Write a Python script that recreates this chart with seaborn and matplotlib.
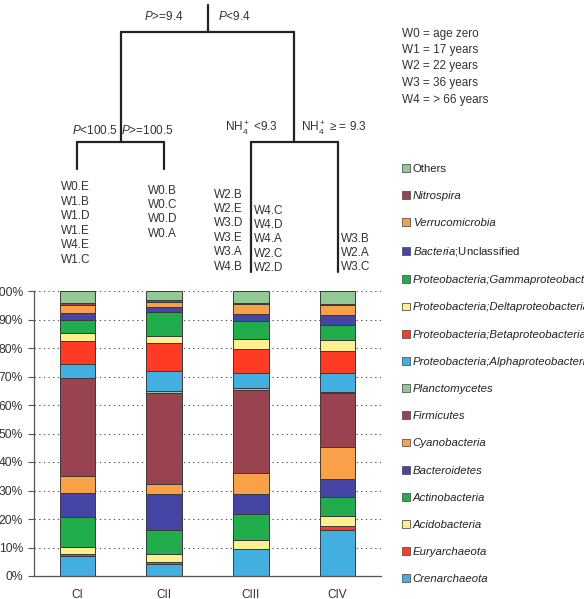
import numpy as np
import pandas as pd
import matplotlib
matplotlib.use("Agg")
import matplotlib.pyplot as plt
from matplotlib.patches import Patch
import seaborn as sns

# data (percent, listed top of bar -> bottom of bar)
clusters = ["CI", "CII", "CIII", "CIV"]
taxa = ["Others", "Nitrospira", "Verrucomicrobia", "Bacteria;Unclassified",
        "Proteobacteria;Gammaproteobacteria", "Proteobacteria;Deltaproteobacteria",
        "Proteobacteria;Betaproteobacteria", "Proteobacteria;Alphaproteobacteria",
        "Planctomycetes", "Firmicutes", "Cyanobacteria", "Bacteroidetes",
        "Actinobacteria", "Acidobacteria", "Euryarchaeota", "Crenarchaeota"]
ci = [4.3, 0.5, 2.9, 2.3, 4.7, 2.7, 8.2, 4.8, 0.3, 34.3, 6.0, 8.3, 10.6, 2.5, 0.6, 7.0]
cii = [3.0, 0.8, 1.7, 1.8, 8.4, 2.4, 9.9, 7.1, 0.8, 31.8, 3.7, 12.4, 8.4, 2.8, 0.9, 4.1]
ciii = [4.2, 0.5, 3.2, 2.7, 6.4, 3.2, 8.7, 5.2, 0.6, 29.2, 7.2, 7.3, 8.8, 3.2, 0.3, 9.3]
civ = [4.7, 0.3, 3.5, 3.3, 5.4, 3.9, 7.8, 6.5, 0.3, 19.2, 11.0, 6.5, 6.4, 3.5, 1.4, 16.3]
legend_labels = ["Others", "Nitrospira", "Verrucomicrobia", "$\\it{Bacteria}$;Unclassified",
                 "Proteobacteria;Gammaproteobacteria", "Proteobacteria;Deltaproteobacteria",
                 "Proteobacteria;Betaproteobacteria", "Proteobacteria;Alphaproteobacteria",
                 "Planctomycetes", "Firmicutes", "Cyanobacteria", "Bacteroidetes",
                 "Actinobacteria", "Acidobacteria", "Euryarchaeota", "Crenarchaeota"]
base_colors = ["#93c994", "#98434f", "#f9a148", "#4545a5",
               "#21ad4b", "#fdf08f", "#ff3b26", "#43aee0"]
colors = base_colors * 2

# tree
leaf_groups = [["W0.E", "W1.B", "W1.D", "W1.E", "W4.E", "W1.C"],
               ["W0.B", "W0.C", "W0.D", "W0.A"],
               ["W2.B", "W2.E", "W3.D", "W3.E", "W3.A", "W4.B"],
               ["W4.C", "W4.D", "W4.A", "W2.C", "W2.D"],
               ["W3.B", "W2.A", "W3.C"]]
key_text = ["W0 = age zero", "W1 = 17 years", "W2 = 22 years",
            "W3 = 36 years", "W4 = > 66 years"]

sns.set_style("white")
plt.rcParams['font.family'] = ['Liberation Sans', 'DejaVu Sans']
plt.rcParams['mathtext.fontset'] = 'custom'
plt.rcParams['mathtext.rm'] = 'Liberation Sans'
plt.rcParams['mathtext.it'] = 'Liberation Sans:italic'

rows = []
for c, vals in zip(clusters, [ci, cii, ciii, civ]):
    for t, v in zip(taxa, vals):
        rows.append((c, t, v))
df = pd.DataFrame(rows, columns=["cluster", "taxon", "pct"])
df["cluster"] = pd.Categorical(df["cluster"], categories=clusters)

W, H = 584, 599
fig = plt.figure(figsize=(W / 100, H / 100), dpi=100)
ax_l, ax_r, ax_b, ax_t = 34, 381, 576, 291
ax = fig.add_axes([ax_l / W, 1 - ax_b / H, (ax_r - ax_l) / W, (ax_b - ax_t) / H])

sns.histplot(data=df, x="cluster", hue="taxon", weights="pct", multiple="stack",
             discrete=True, shrink=0.41, hue_order=taxa,
             palette=dict(zip(taxa, colors)), alpha=1, edgecolor="#3a3a3a",
             linewidth=0.7, legend=False, ax=ax)

ax.set_xlim(-0.5, 3.5)
ax.set_ylim(0, 100)
ax.set_xlabel("")
ax.set_ylabel("")
ax.set_xticks(range(len(clusters)), clusters, fontsize=8.5, color="#333")
ax.set_xticks(np.arange(len(clusters)) + 0.5, minor=True)
ax.tick_params(axis="x", which="major", length=0, pad=9)
ax.tick_params(axis="x", which="minor", length=4, width=0.8, color="#555", direction="out")
ax.set_yticks(range(0, 101, 10), [f"{v}%" for v in range(0, 101, 10)],
              fontsize=8.7, color="#333")
ax.tick_params(axis="y", length=4, width=0.8, color="#555", direction="out", left=True, pad=4)
ax.yaxis.grid(True, linestyle=(0, (1.2, 3)), color="#555", linewidth=0.8)
ax.set_axisbelow(True)
for s in ["top", "right"]:
    ax.spines[s].set_visible(False)
for s in ["left", "bottom"]:
    ax.spines[s].set_color("#555")
    ax.spines[s].set_linewidth(0.9)

# dendrogram above the bars, sharing the bar positions
tx = fig.add_axes([ax_l / W, 1 - ax_t / H, (ax_r - ax_l) / W, ax_t / H])
tx.set_xlim(-0.5, 3.5)
tx.set_ylim(ax_t, 0)
tx.axis("off")
lw, lc = 1.6, "#222"
root_top, lvl1, lvl2, left_end, right_end = 5, 32, 142, 169, 272
j_left, j_right = (0 + 1) / 2, (2 + 3) / 2
root = (j_left + j_right) / 2
tx.plot([root, root], [root_top, lvl1], color=lc, lw=lw)
tx.plot([j_left, j_right], [lvl1, lvl1], color=lc, lw=lw)
tx.plot([j_left, j_left], [lvl1, lvl2], color=lc, lw=lw)
tx.plot([j_right, j_right], [lvl1, lvl2], color=lc, lw=lw)
tx.plot([0, 1], [lvl2, lvl2], color=lc, lw=lw)
tx.plot([2, 3], [lvl2, lvl2], color=lc, lw=lw)
for x in [0, 1]:
    tx.plot([x, x], [lvl2, left_end], color=lc, lw=lw)
for x in [2, 3]:
    tx.plot([x, x], [lvl2, right_end], color=lc, lw=lw)

fs = 8.5
px = 0.72  # points per pixel
def lab(x, y, s, dx, ha, **kw):
    tx.annotate(s, (x, y), xytext=(dx * px, 0), textcoords="offset points",
                ha=ha, va="center", fontsize=fs, color="#333", **kw)

lab(root, 16, "$\\it{P}$>=9.4", -24, "right")
lab(root, 16, "$\\it{P}$<9.4", 11, "left")
lab(j_left, 131, "$\\it{P}$<100.5", -3, "right")
lab(j_left, 131, "$\\it{P}$>=100.5", 0, "left")
lab(j_right, 128, "NH$_4^+$ <9.3", -16, "right")
lab(j_right, 128, "NH$_4^+$ \u2265 = 9.3", 7, "left")

def leaves(x, ytop, names, dx, ha):
    tx.annotate("\n".join(names), (x, ytop), xytext=(dx * px, 0),
                textcoords="offset points", ha=ha, va="top", fontsize=fs,
                color="#333", linespacing=1.27, multialignment="left")

leaves(0, 181.5, leaf_groups[0], -2, "center")
leaves(1, 184.5, leaf_groups[1], -1, "center")
leaves(2, 188.5, leaf_groups[2], -8, "right")
leaves(2, 204.5, leaf_groups[3], 3, "left")
leaves(3, 232.5, leaf_groups[4], 3, "left")

fig.text(402 / W, 1 - 27.5 / H, "\n".join(key_text), ha="left", va="top",
         fontsize=fs, color="#333", linespacing=1.5)

handles = [Patch(facecolor=c, edgecolor="#555", linewidth=0.6) for c in colors]
leg = fig.legend(handles, legend_labels, loc="upper left",
                 bbox_to_anchor=(402 / W, 1 - 163.5 / H), frameon=False,
                 fontsize=8.2, handlelength=0.7, handleheight=0.7,
                 handletextpad=0.25, labelspacing=1.51, borderpad=0,
                 borderaxespad=0)
for t, name in zip(leg.get_texts(), taxa):
    if name not in ("Others", "Bacteria;Unclassified"):
        t.set_fontstyle("italic")
    t.set_color("#222")

fig.savefig("out.png", dpi=100)
